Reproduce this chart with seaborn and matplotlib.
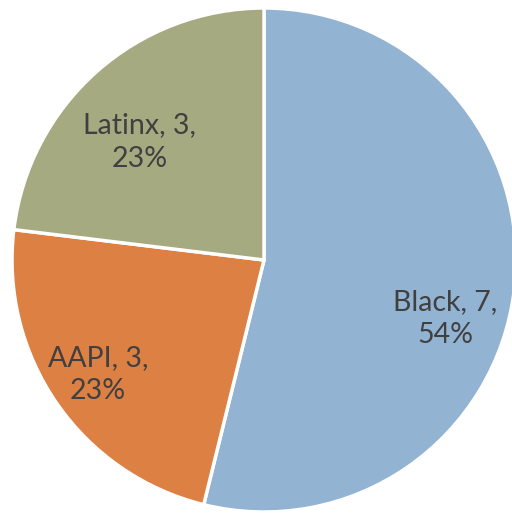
import matplotlib
matplotlib.use("Agg")
import matplotlib.pyplot as plt
import seaborn as sns
import numpy as np

groups = ["Black", "AAPI", "Latinx"]
counts = [7, 3, 3]
colors = ["#93B3D3", "#DD8043", "#A5AA80"]

sns.set_theme(style="white")
plt.rcParams["font.family"] = ["Lato", "DejaVu Sans"]
palette = sns.color_palette(colors)

fig = plt.figure(figsize=(5.12, 5.14), dpi=100)
ax = fig.add_axes([0, 0, 1, 1])

wedges, _ = ax.pie(counts, colors=palette, startangle=90, counterclock=False,
                   wedgeprops=dict(edgecolor="white", linewidth=2.5))

# pie radius in pixels and centre position within the canvas
r_px, cx, cy = 252, 264, 260
ax.set_xlim(-cx / r_px, (512 - cx) / r_px)
ax.set_ylim(-(514 - cy) / r_px, cy / r_px)
ax.set_aspect("equal")
ax.set_axis_off()

total = sum(counts)
# label placement: (angle offset in degrees, radial distance)
placement = [(-11, 0.755), (0, 0.80), (5, 0.68)]
for w, g, c, (da, dist) in zip(wedges, groups, counts, placement):
    mid = np.deg2rad((w.theta1 + w.theta2) / 2 + da)
    ax.text(dist * np.cos(mid), dist * np.sin(mid),
            f"{g}, {c},\n{round(100 * c / total)}%",
            ha="center", va="center", fontsize=20.5, color="#404040",
            linespacing=1.35)

fig.savefig("out.png", dpi=100)
